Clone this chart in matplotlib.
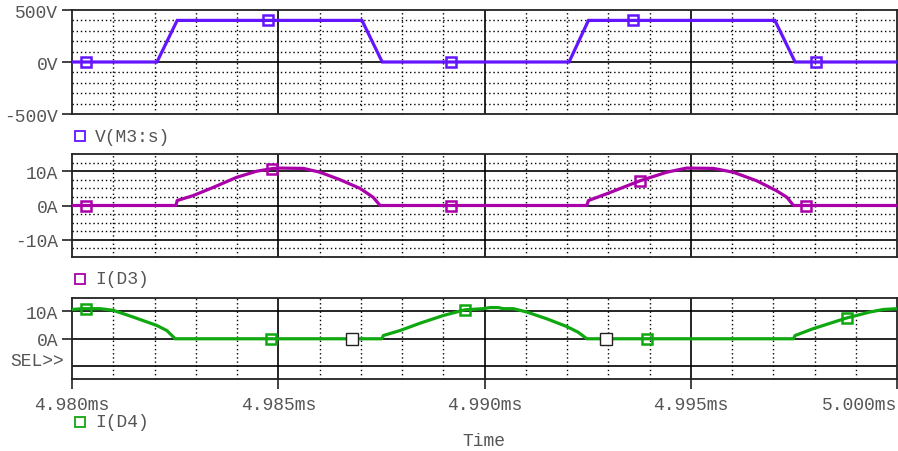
import numpy as np
import matplotlib
matplotlib.use("Agg")
import matplotlib.pyplot as plt
from matplotlib.lines import Line2D

# ---- waveform data (time in ms) ----
v_time = [4.98000, 4.98206, 4.98255, 4.98703, 4.98752, 4.99205, 4.99252, 4.99704, 4.99753, 5.00000]
v_m3s = [0, 0, 400, 400, 0, 0, 400, 400, 0, 0]

d3_time_us = [0, 2.52, 2.55, 2.94, 3.43, 3.99, 4.48, 4.88, 5.04, 5.61, 6.01, 6.50, 6.98, 7.30, 7.47,
              12.48, 12.52, 12.96, 13.77, 14.42, 14.90, 15.55, 16.03, 16.60, 17.08, 17.33, 17.49, 20.0]
i_d3 = [0, 0, 1.45, 2.9, 5.3, 8.2, 10.0, 10.8, 10.9, 10.8, 9.7, 7.5, 5.0, 2.4, 0,
        0, 1.45, 3.4, 7.2, 9.7, 10.9, 10.8, 9.7, 7.2, 4.3, 2.4, 0, 0]

d4_time_us = [0, 0.27, 0.68, 1.0, 1.49, 2.05, 2.30, 2.50, 7.51, 7.55, 7.95, 8.44, 9.0, 9.53, 9.97,
              10.13, 10.33, 10.46, 10.70, 11.02, 11.51, 11.99, 12.27, 12.48, 17.49, 17.53, 17.97,
              18.78, 19.35, 19.67, 20.0]
i_d4 = [10.7, 11, 11, 10.4, 7.9, 4.9, 3.0, 0, 0, 1.2, 3.0, 5.7, 8.5, 10.6, 11,
        11.4, 11.4, 11, 11, 9.8, 7.3, 4.5, 2.4, 0, 0, 1.2, 3.7,
        7.6, 9.8, 10.7, 11]

# trace symbol positions (ms)
v_marks = [4.98034, 4.98475, 4.98919, 4.99360, 4.99804]
d3_marks = [4.98034, 4.98485, 4.98919, 4.99377, 4.99780]
d4_marks = [4.98034, 4.98482, 4.98953, 4.99394, 4.99879]
cursor_marks = [4.98679, 4.99295]

x_ticks = [4.980, 4.985, 4.990, 4.995, 5.000]
x_ticklabels = ["4.980ms", "4.985ms", "4.990ms", "4.995ms", "5.000ms"]

t_start = 4.980
d3_time = [t_start + t / 1000 for t in d3_time_us]
d4_time = [t_start + t / 1000 for t in d4_time_us]

# ---- styling ----
FONT = "Liberation Mono"
FS = 13
TXT = "#555555"
C_V = "#6414FF"
C_D3 = "#AA00AA"
C_D4 = "#10A810"

plt.rcParams["font.family"] = [FONT, "DejaVu Sans"]

W, H = 898, 452
fig = plt.figure(figsize=(W / 100, H / 100), dpi=100)


def px_axes(left, top, right, bottom):
    return fig.add_axes([left / W, 1 - bottom / H, (right - left) / W, (bottom - top) / H])


ax1 = px_axes(72, 11, 897, 115)
ax2 = px_axes(72, 155, 897, 258)
ax3 = px_axes(72, 299, 897, 380)

minor_x = np.arange(4.980, 5.0001, 0.001)


def frame(ax, ylim):
    ax.set_xlim(4.980, 5.000)
    ax.set_ylim(*ylim)
    for s in ax.spines.values():
        s.set_color("#222222")
        s.set_linewidth(1.3)
    for x in minor_x[1:-1]:
        if round((x - 4.980) * 1000) % 5 == 0:
            ax.axvline(x, color="black", lw=1.2, zorder=1)
        else:
            ax.axvline(x, color="black", lw=1.0, ls=(0, (1, 2)), zorder=1)
    ax.tick_params(axis="y", direction="out", length=7, width=1.2, color="#222222",
                   labelsize=FS, labelcolor=TXT, pad=3)
    ax.tick_params(axis="x", bottom=False, labelbottom=False)


# panel 1: V(M3:s)
frame(ax1, (-500, 500))
for y in range(-400, 500, 100):
    if y == 0:
        ax1.axhline(y, color="black", lw=1.2, zorder=1)
    else:
        ax1.axhline(y, color="black", lw=1.0, ls=(0, (1, 2)), zorder=1)
ax1.set_yticks([500, 0, -500])
ax1.set_yticklabels(["500V", "0V", "-500V"])
ax1.plot(v_time, v_m3s, color=C_V, lw=2.3, zorder=3, solid_joinstyle="miter")
ax1.plot(v_marks, np.interp(v_marks, v_time, v_m3s), ls="none", marker="s", ms=7,
         mfc="none", mec=C_V, mew=1.8, zorder=4)

# panel 2: I(D3)
frame(ax2, (-15, 15))
for y in np.arange(-12.5, 13, 2.5):
    if abs(y) < 1e-9 or abs(abs(y) - 10) < 1e-9:
        ax2.axhline(y, color="black", lw=1.2, zorder=1)
    else:
        ax2.axhline(y, color="black", lw=1.0, ls=(0, (1, 2)), zorder=1)
ax2.set_yticks([10, 0, -10])
ax2.set_yticklabels(["10A", "0A", "-10A"])
ax2.plot(d3_time, i_d3, color=C_D3, lw=2.3, zorder=3)
ax2.plot(d3_marks, np.interp(d3_marks, d3_time, i_d3), ls="none", marker="s", ms=7,
         mfc="none", mec=C_D3, mew=1.8, zorder=4)

# panel 3: I(D4)
frame(ax3, (-14.7, 14.9))
for y in (10, 0, -10):
    ax3.axhline(y, color="black", lw=1.2, zorder=1)
ax3.set_yticks([10, 0])
ax3.set_yticklabels(["10A", "0A"])
ax3.set_xticks(x_ticks)
ax3.set_xticklabels(x_ticklabels)
ax3.tick_params(axis="x", bottom=True, labelbottom=True, direction="out", length=7,
                width=1.2, color="#222222", labelsize=FS, labelcolor=TXT, pad=5)
# keep the last time label inside the figure
ax3.get_xticklabels()[-1].set_horizontalalignment("right")
ax3.plot(d4_time, i_d4, color=C_D4, lw=2.3, zorder=3)
ax3.plot(d4_marks, np.interp(d4_marks, d4_time, i_d4), ls="none", marker="s", ms=7,
         mfc="none", mec=C_D4, mew=1.8, zorder=4)
ax3.plot(cursor_marks, np.interp(cursor_marks, d4_time, i_d4), ls="none", marker="s", ms=8,
         mfc="white", mec="#222222", mew=1.0, zorder=5)

fig.text(64 / W, 1 - 362 / H, "SEL>>", ha="right", va="center", fontsize=FS, color=TXT)


# trace legends under each panel
def legend(y_px, label, color):
    fig.add_artist(Line2D([80 / W], [1 - y_px / H], ls="none", marker="s", ms=6.5,
                          mfc="white", mec=color, mew=1.3, transform=fig.transFigure))
    fig.text(95 / W, 1 - y_px / H, label, ha="left", va="center", fontsize=FS, color=TXT)


legend(137, "V(M3:s)", C_V)
legend(280, "I(D3)", C_D3)
legend(423, "I(D4)", C_D4)

fig.text(484 / W, 1 - 442 / H, "Time", ha="center", va="center", fontsize=FS, color=TXT)

fig.savefig("out.png", dpi=100)
